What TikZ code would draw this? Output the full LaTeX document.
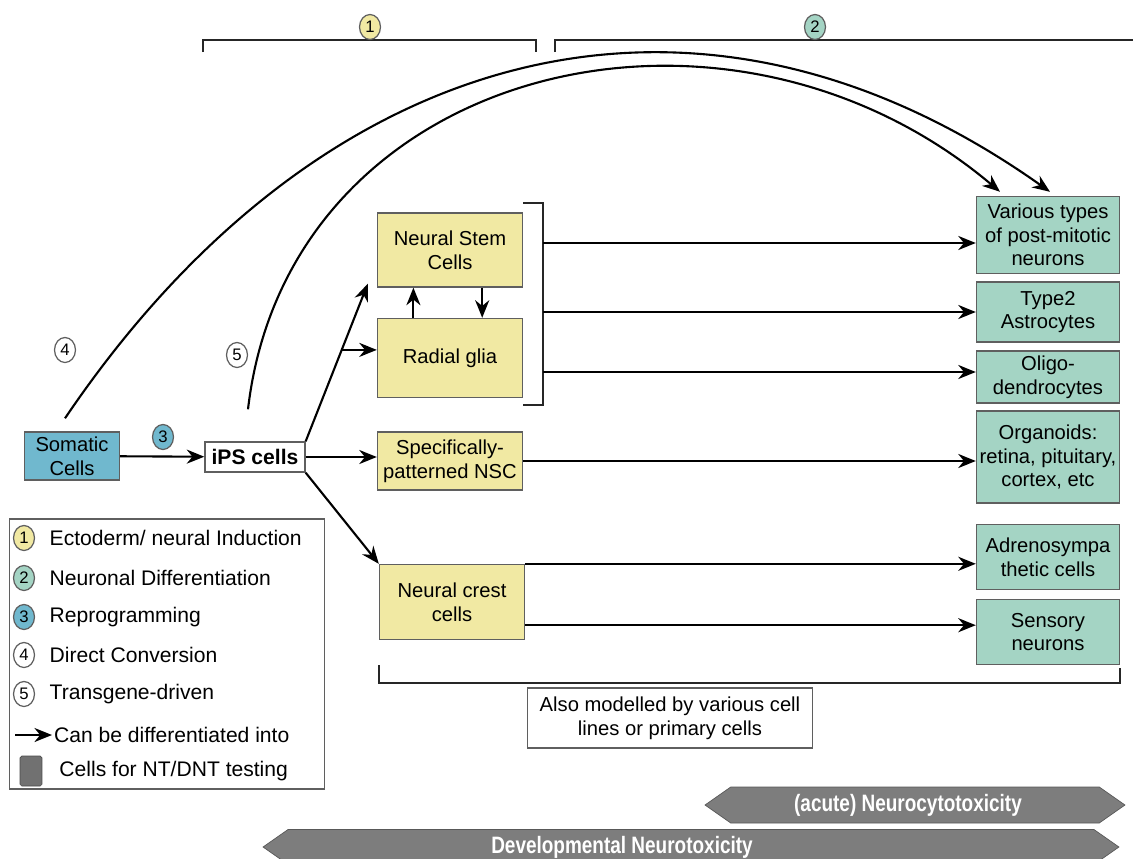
\documentclass[tikz,border=0pt]{standalone}
\usepackage{fontspec}
\setmainfont{Liberation Sans}
\newfontfamily\narrowfont[FakeStretch=0.8]{Liberation Sans}
\usetikzlibrary{arrows,arrows.meta,shapes,positioning,calc}

\definecolor{nscyellow}{RGB}{241,233,163}
\definecolor{diffteal}{RGB}{164,212,196}
\definecolor{reproblue}{RGB}{112,184,206}
\definecolor{boxborder}{RGB}{95,95,95}
\definecolor{ntgray}{RGB}{125,125,125}

\begin{document}
\begin{tikzpicture}[
        x = 0.02cm, y = -0.02cm,
        % boxes for the cell types
        cell box/.style = {
            draw=boxborder,
            line width=0.8pt,
            rectangle,
            align=center,
            inner sep=1pt,
            font=\fontsize{11.5}{13.5}\selectfont
        },
        stem box/.style = {cell box, fill=nscyellow, minimum width=2.9cm},
        target box/.style = {cell box, fill=diffteal, minimum width=2.86cm},
        % numbered circles
        num circle/.style = {
            draw=boxborder,
            line width=0.7pt,
            ellipse,
            inner sep=0pt,
            minimum width=0.42cm,
            minimum height=0.5cm,
            font=\fontsize{9.5}{10}\selectfont
        },
        % arrows
        edge arrow/.style = {
            ->,
            >={Stealth[length=10pt, width=8pt]},
            line width=1.2pt
        },
        bracket line/.style = {line width=1.2pt, black!85},
        % grey bands
        tox band/.style = {
            draw=ntgray!70!black,
            fill=ntgray,
            signal,
            signal to=east and west,
            signal pointer angle=70,
            inner sep=0pt
        },
        band text/.style = {
            text=white,
            font=\narrowfont\bfseries\fontsize{13.5}{15}\selectfont
        }
    ]
    \tikzset{
        legend text/.style={font=\fontsize{12}{14}\selectfont, inner sep=1pt}
    }
    \useasboundingbox (0,0) rectangle (1133,859);

    % top brackets
    \draw[bracket line] (203,52) |- (536,40) -- (536,52);
    \draw[bracket line] (555,52) |- (1133,40);
    \node[num circle, fill=nscyellow] (s1) at (370,27) {1};
    \node[num circle, fill=diffteal] (s2) at (815,27) {2};

    % source cells
    \node[cell box, fill=reproblue, minimum width=1.9cm, minimum height=0.96cm] (somatic) at (72,456) {Somatic\\Cells};
    \node[cell box, fill=white, font=\bfseries\fontsize{12}{14}\selectfont, minimum width=2cm, minimum height=0.6cm] (ips) at (255,457) {iPS cells};
    \node[num circle, fill=reproblue] (s3) at (163,437) {3};

    % neural progenitors
    \node[stem box, minimum height=1.48cm] (nsc) at (450,250) {Neural Stem\\Cells};
    \node[stem box, minimum height=1.58cm] (glia) at (450,358) {Radial glia};
    \node[stem box, minimum height=1.16cm] (patterned) at (450,461) {Specifically-\\patterned NSC};
    \node[stem box, minimum height=1.5cm] (crest) at (452,602) {Neural crest\\cells};

    % differentiated cells
    \node[target box, minimum height=1.54cm] (neurons) at (1048,235) {Various types\\of post-mitotic\\neurons};
    \node[target box, minimum height=1.2cm] (astro) at (1048,312) {Type2\\Astrocytes};
    \node[target box, minimum height=1.04cm] (oligo) at (1048,377) {Oligo-\\dendrocytes};
    \node[target box, minimum height=1.84cm] (organoids) at (1048,457) {Organoids:\\retina, pituitary,\\cortex, etc};
    \node[target box, minimum height=1.3cm] (adreno) at (1048,557) {Adrenosympa\\thetic cells};
    \node[target box, minimum height=1.3cm] (sensory) at (1048,632) {Sensory\\neurons};

    % reprogramming and differentiation
    \coordinate (nsctip) at ($(nsc.south west)+(-9,-4)$);
    \coordinate (fork) at ($(ips.north east)!0.58!(nsctip)$);
    \draw[edge arrow] (somatic) -- (ips);
    \draw[edge arrow] (ips.north east) -- (nsctip);
    \draw[edge arrow] (fork) -- (fork -| glia.west);
    \draw[edge arrow] (ips.east) -- (ips.east -| patterned.west);
    \draw[edge arrow] (ips.south east) -- (crest.north west);
    \draw[edge arrow] ($(glia.north west)!0.25!(glia.north east)$) -- ($(nsc.south west)!0.25!(nsc.south east)$);
    \draw[edge arrow] ($(nsc.south west)!0.72!(nsc.south east)$) -- ($(glia.north west)!0.72!(glia.north east)$);

    % bracket round NSC and radial glia
    \coordinate (brk) at ($(nsc.east)+(20,0)$);
    \draw[bracket line] ($(nsc.north east)+(0,-9)$) -| ($(glia.south east)+(20,7)$) -- ($(glia.south east)+(0,7)$);
    \draw[edge arrow] (brk |- 0,243) -- (neurons.west |- 0,243);
    \draw[edge arrow] (brk |- astro) -- (astro);
    \draw[edge arrow] (brk |- 0,372) -- (oligo.west |- 0,372);
    \draw[edge arrow] (patterned.east) -- (patterned.east -| organoids.west);
    \coordinate (crestlow) at ($(crest.south east)+(0,-15)$);
    \draw[edge arrow] (crest.north east) -- (crest.north east -| adreno.west);
    \draw[edge arrow] (crestlow) -- (crestlow -| sensory.west);

    % bottom bracket
    \draw[bracket line] ($(crest.south west)+(0,25)$) |- ($(sensory.south east)+(0,18)$) -- ($(sensory.south east)+(0,3)$);
    \node[draw=boxborder, line width=0.8pt, align=center, minimum width=5.7cm, minimum height=1.2cm, font=\fontsize{11.5}{13.5}\selectfont] (also) at (670,718) {Also modelled by various cell\\lines or primary cells};

    % direct conversion and transgenes
    \coordinate (c4start) at ($(somatic.north)+(-7,-13)$);
    \coordinate (c5start) at ($(ips.north)+(-7,-32)$);
    \draw[edge arrow] (c4start) .. controls +(250,-370) and +(-360,-255) .. ($(neurons.north)+(2,-4)$);
    \draw[edge arrow] (c5start) .. controls +(40,-345) and +(-275,-232) .. ($(neurons.north)+(-48,-4)$);
    \node[num circle, fill=white] (s4) at (65,350) {4};
    \node[num circle, fill=white] (s5) at (237,355) {5};

    % legend
    \node[draw=boxborder, line width=0.8pt, minimum width=6.3cm, minimum height=5.4cm] (legend) at (167,654) {};
    \node[num circle, fill=nscyellow] (l1) at (24,538) {1};
    \node[num circle, fill=diffteal] (l2) at (24,578) {2};
    \node[num circle, fill=reproblue] (l3) at (24,617) {3};
    \node[num circle, fill=white] (l4) at (24,655) {4};
    \node[num circle, fill=white] (l5) at (24,694) {5};
    \node[legend text, right=0.25cm of l1] {Ectoderm/ neural Induction};
    \node[legend text, right=0.25cm of l2] {Neuronal Differentiation};
    \node[legend text, right=0.25cm of l3] {Reprogramming};
    \node[legend text, right=0.25cm of l4] {Direct Conversion};
    \node[legend text, right=0.25cm of l5] {Transgene-driven};
    \coordinate (l6) at (15,735);
    \node[legend text, anchor=west] (l6text) at (52,735) {Can be differentiated into};
    \draw[edge arrow] (l6) -- (l6text.west);
    \node[draw=ntgray!60!black, fill=ntgray!90!black, rounded corners=1pt, minimum width=0.44cm, minimum height=0.6cm, inner sep=0pt] (l7) at (31,771) {};
    \node[legend text, right=0.3cm of l7] {Cells for NT/DNT testing};

    % toxicity bands
    \node[tox band, minimum width=8.4cm, minimum height=0.72cm] (acute) at (915,805) {};
    \node[band text] (acutetext) at (908,805) {(acute) Neurocytotoxicity};
    \node[tox band, minimum width=17.12cm, minimum height=0.7cm] (dnt) at (691,847) {};
    \node[band text] (dnttext) at (622,847) {Developmental Neurotoxicity};
\end{tikzpicture}
\end{document}
